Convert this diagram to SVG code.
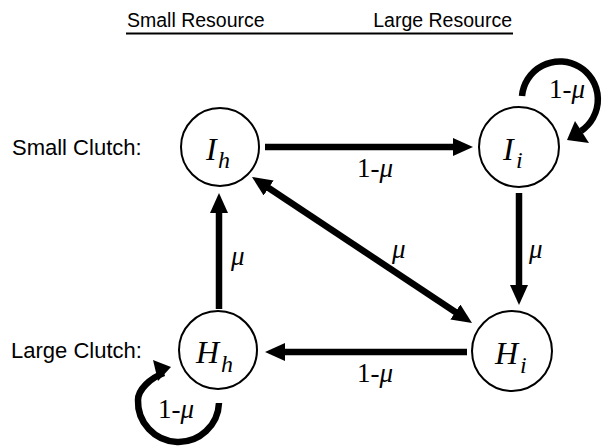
<svg xmlns="http://www.w3.org/2000/svg" width="603" height="448" viewBox="0 0 603 448">
<style>
.sans{font-family:"Liberation Sans",Arial,sans-serif;fill:#000}
.serif{font-family:"Liberation Serif","Times New Roman",serif;fill:#000}
.it{font-style:italic}
.node circle{fill:#fff;stroke:#000;stroke-width:2}
.nl{font-size:32px}
.sub{font-size:24px}
.lab{font-size:27px}
.edge{fill:none;stroke:#000;stroke-width:6.5}
</style>
<defs>
<marker id="ah" markerUnits="userSpaceOnUse" markerWidth="20" markerHeight="18" refX="4" refY="9" orient="auto-start-reverse">
<path d="M0,0 L20,9 L0,18 z" fill="#000"/>
</marker>
</defs>
<g id="header">
<text class="sans" x="127" y="27" font-size="19.5">Small Resource</text>
<text class="sans" x="512" y="27" font-size="19.5" text-anchor="end">Large Resource</text>
<line x1="126" y1="33.5" x2="513" y2="33.5" stroke="#000" stroke-width="2"/>
<text class="sans" x="12" y="155" font-size="22">Small Clutch:</text>
<text class="sans" x="11" y="358" font-size="22">Large Clutch:</text>
</g>
<g id="connectors">
<line class="edge" x1="265" y1="147" x2="457" y2="147" marker-end="url(#ah)"/>
<line class="edge" x1="519" y1="193" x2="519" y2="289" marker-end="url(#ah)"/>
<line class="edge" x1="467" y1="352" x2="281" y2="352" marker-end="url(#ah)"/>
<line class="edge" x1="219" y1="309" x2="219" y2="209" marker-end="url(#ah)"/>
<line class="edge" x1="265.3" y1="185.8" x2="458.7" y2="314.2" marker-start="url(#ah)" marker-end="url(#ah)"/>
<path class="edge" d="M522,96 A38,38 0 1 1 581,131"/>
<polygon points="567,140 575,121 589,143" fill="#000"/>
<path class="edge" d="M219,403 A40.5,40.5 0 0 1 138,400 C138,390 150,378 164,373"/>
<polygon points="153,360 171,367 158,381" fill="#000"/>
<text class="serif lab" x="357" y="177">1-<tspan class="it">μ</tspan></text>
<text class="serif lab" x="357" y="382">1-<tspan class="it">μ</tspan></text>
<text class="serif lab" x="549" y="98">1-<tspan class="it">μ</tspan></text>
<text class="serif lab" x="158" y="418">1-<tspan class="it">μ</tspan></text>
<text class="serif lab it" x="231" y="265">μ</text>
<text class="serif lab it" x="529" y="258">μ</text>
<text class="serif lab it" x="392" y="258">μ</text>
</g>
<g id="node-Ih" class="node">
<circle cx="220" cy="147" r="39"/>
<text class="serif it nl" x="206" y="160">I</text>
<text class="serif it sub" x="218" y="168">h</text>
</g>
<g id="node-Ii" class="node">
<circle cx="519" cy="147" r="40"/>
<text class="serif it nl" x="503" y="160">I</text>
<text class="serif it sub" x="516" y="168">i</text>
</g>
<g id="node-Hh" class="node">
<circle cx="218" cy="350" r="39"/>
<text class="serif it nl" x="196" y="363">H</text>
<text class="serif it sub" x="221" y="372">h</text>
</g>
<g id="node-Hi" class="node">
<circle cx="512" cy="351" r="40"/>
<text class="serif it nl" x="495" y="364">H</text>
<text class="serif it sub" x="520" y="373">i</text>
</g>
</svg>
